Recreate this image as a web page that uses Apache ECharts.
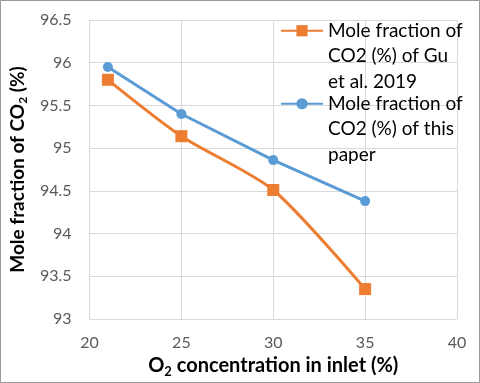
<!DOCTYPE html>
<html>
<head>
<meta charset="utf-8">
<script src="https://cdn.jsdelivr.net/npm/echarts@6/dist/echarts.min.js"></script>
<style>
  html, body { margin: 0; padding: 0; background: #fff; }
  #chart { width: 480px; height: 383px; }
</style>
</head>
<body>
<div id="chart"></div>
<script>
// data
const o2Conc = [21, 25, 30, 35];
const guValues = [95.8, 95.14, 94.51, 93.35];
const paperValues = [95.95, 95.4, 94.86, 94.38];
const seriesNames = ['Mole fraction of CO2 (%) of Gu et al. 2019', 'Mole fraction of CO2 (%) of this paper'];
// legend wrapping as in the reference
const legendLines = {
    [seriesNames[0]]: ['Mole fraction of', 'CO2 (%) of Gu', 'et al. 2019'],
    [seriesNames[1]]: ['Mole fraction of', 'CO2 (%) of this', 'paper']
};

const FONT = 'Lato, "Open Sans", sans-serif';

const chart = echarts.init(document.getElementById('chart'));

// two blank lines on top so the icon sits level with the first text line
const legendCommon = {
    left: 280,
    padding: 0,
    itemWidth: 42, itemHeight: 14, itemGap: 4,
    formatter: name => '\n\n' + legendLines[name].join('\n'),
    textStyle: {
        fontFamily: FONT,
        fontSize: 19,
        color: '#000',
        lineHeight: 25.5
    }
};

chart.setOption({
    animation: false,
    backgroundColor: '#fff',
    grid: { left: 80, right: 23, top: 20, bottom: 60 },
    graphic: [{
        type: 'rect',
        shape: { x: 0.5, y: 0.5, width: 479, height: 382 },
        style: { fill: 'none', stroke: '#999', lineWidth: 1 },
        silent: true
    }],
    legend: [
        Object.assign({ data: [seriesNames[0]], top: 31 - 64 }, legendCommon),
        Object.assign({ data: [seriesNames[1]], top: 104 - 64 }, legendCommon)
    ],
    xAxis: {
        type: 'value',
        min: 20, max: 40, interval: 5,
        name: '{b|O}{s|2}{b| concentration in inlet (%)}',
        nameLocation: 'middle',
        nameGap: 35,
        nameTextStyle: {
            rich: {
                b: { fontFamily: FONT, fontSize: 20, fontWeight: 'bold', color: '#000' },
                s: { fontFamily: FONT, fontSize: 13, fontWeight: 'bold', color: '#000', padding: [11, 0, 0, 0] }
            }
        },
        axisLine: { lineStyle: { color: '#d9d9d9', width: 1 } },
        axisTick: { show: false },
        splitLine: { show: true, lineStyle: { color: '#d9d9d9', width: 1 } },
        axisLabel: { color: '#595959', fontFamily: FONT, fontSize: 16, margin: 16 }
    },
    yAxis: {
        type: 'value',
        min: 93, max: 96.5, interval: 0.5,
        name: '{b|Mole fraction of CO}{s|2}{b| (%)}',
        nameLocation: 'middle',
        nameGap: 58,
        nameRotate: 90,
        nameTextStyle: {
            rich: {
                b: { fontFamily: FONT, fontSize: 19, fontWeight: 'bold', color: '#000' },
                s: { fontFamily: FONT, fontSize: 12, fontWeight: 'bold', color: '#000', padding: [11, 0, 0, 0] }
            }
        },
        axisLine: { show: true, lineStyle: { color: '#d9d9d9', width: 1 } },
        axisTick: { show: false },
        splitLine: { show: true, lineStyle: { color: '#d9d9d9', width: 1 } },
        axisLabel: { color: '#595959', fontFamily: FONT, fontSize: 16, margin: 18 }
    },
    series: [
        {
            name: seriesNames[0],
            type: 'line',
            smooth: 0.25,
            data: o2Conc.map((x, i) => [x, guValues[i]]),
            symbol: 'rect',
            symbolSize: 12,
            lineStyle: { color: '#ED7D31', width: 3 },
            itemStyle: { color: '#ED7D31' }
        },
        {
            name: seriesNames[1],
            type: 'line',
            data: o2Conc.map((x, i) => [x, paperValues[i]]),
            symbol: 'circle',
            symbolSize: 10,
            lineStyle: { color: '#5B9BD5', width: 3 },
            itemStyle: { color: '#5B9BD5' }
        }
    ]
});
</script>
</body>
</html>
